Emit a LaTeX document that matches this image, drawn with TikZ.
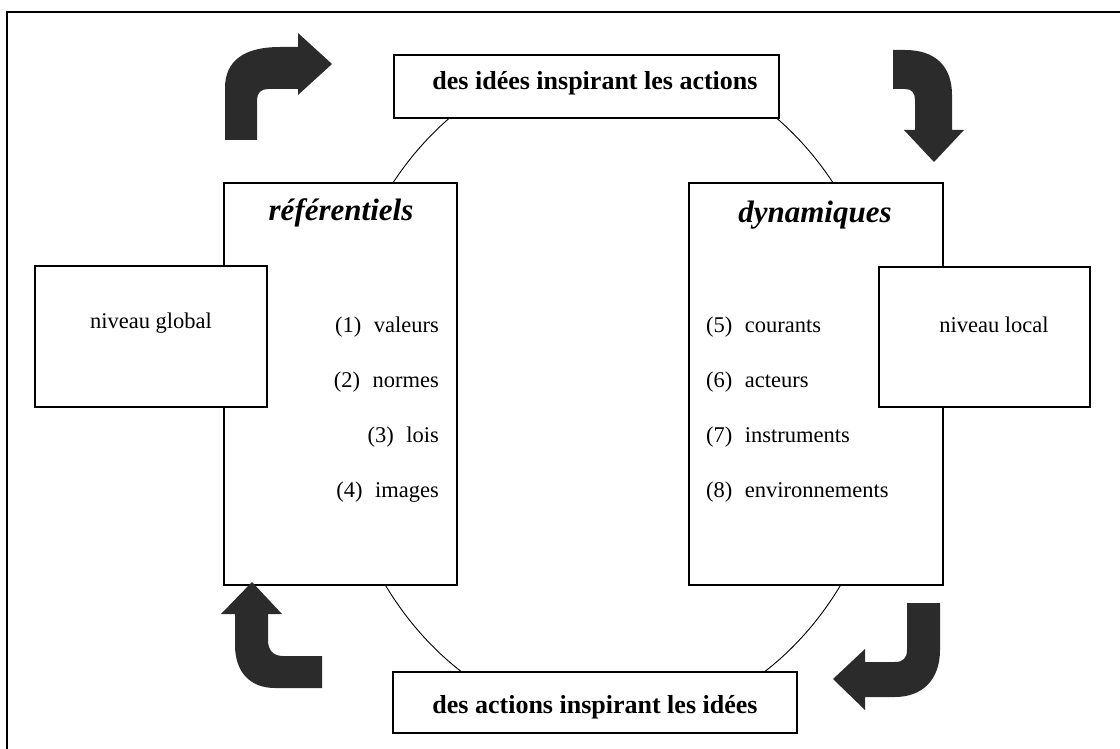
\documentclass[tikz,border=0pt]{standalone}
\usepackage{fontspec}
\setmainfont{Liberation Serif}
\definecolor{arrowgray}{HTML}{2B2B2B}
\begin{document}
\begin{tikzpicture}[x=1pt,y=-1pt,
  box/.style={draw, line width=1.6pt, fill=white, inner sep=0pt},
  bigarrow/.style={fill=arrowgray, draw=none},
  cyclebox/.style={font=\fontsize{26}{30}\selectfont\bfseries},
  boxtitle/.style={inner sep=0pt, font=\fontsize{31}{36}\selectfont\bfseries\itshape},
  item/.style={inner sep=0pt, font=\fontsize{22.5}{26}\selectfont},
]
\useasboundingbox (0,0) rectangle (1120,749);
% outer frame
\draw[line width=2.2pt] (7,749) -- (7,12) -- (1120,12);
% cycle ellipse
\draw[line width=0.9pt] (613,390) ellipse [x radius=280, y radius=335];
% main boxes
\node[box, minimum width=233pt, minimum height=402pt] (ref) at (340.5,384) {};
\node[box, minimum width=254pt, minimum height=402pt] (dyn) at (816,384) {};
% level boxes
\node[box, minimum width=232pt, minimum height=141pt] (glob) at (151,336.5) {};
\node[box, minimum width=211pt, minimum height=140pt] (loc) at (984.5,337) {};
% top / bottom boxes
\node[box, minimum width=385pt, minimum height=63pt] (top) at (586.5,86.5) {};
\node[box, minimum width=404pt, minimum height=61pt] (bot) at (595,702.5) {};
% texts
\node[cyclebox] (toptxt) at (595,83) {des idées inspirant les actions};
\node[cyclebox] (bottxt) at (595,707) {des actions inspirant les idées};
\node[boxtitle] (reft) at (341,213) {référentiels};
\node[boxtitle] (dynt) at (815,215) {dynamiques};
\node[item] (globt) at (151,323) {niveau global};
\node[item] (loct) at (994,325) {niveau local};
\node[item, anchor=east] (i1) at (439,327) {(1)\hspace{0.55em}valeurs};
\node[item, anchor=east] (i2) at (439,382) {(2)\hspace{0.55em}normes};
\node[item, anchor=east] (i3) at (439,437) {(3)\hspace{0.55em}lois};
\node[item, anchor=east] (i4) at (439,492) {(4)\hspace{0.55em}images};
\node[item, anchor=west] (i5) at (706,327) {(5)\hspace{0.55em}courants};
\node[item, anchor=west] (i6) at (706,382) {(6)\hspace{0.55em}acteurs};
\node[item, anchor=west] (i7) at (706,437) {(7)\hspace{0.55em}instruments};
\node[item, anchor=west] (i8) at (706,492) {(8)\hspace{0.55em}environnements};
% big arrows
\fill[bigarrow] (225,140) -- (225,88) .. controls (225,60) and (245,47) .. (280,47) -- (298,47) -- (298,33) -- (332,64) -- (298,95) -- (298,89) -- (268,89) .. controls (261,89) and (257,93) .. (257,100) -- (257,140) -- cycle;
\fill[bigarrow] (893,50) -- (905,50) .. controls (935,50) and (952,66) .. (952,95) -- (952,130) -- (964,130) -- (934,162) -- (904,130) -- (915,130) -- (915,100) .. controls (915,93) and (912,89) .. (905,89) -- (893,89) -- cycle;
\fill[bigarrow] (252,582) -- (282,614) -- (268,614) -- (268,640) .. controls (268,650) and (273,656) .. (283,656) -- (322,656) -- (322,688) -- (275,688) .. controls (250,688) and (235,672) .. (235,645) -- (235,614) -- (221,614) -- cycle;
\fill[bigarrow] (907,603) -- (940,603) -- (940,650) .. controls (940,680) and (922,697) .. (895,697) -- (865,697) -- (865,710) -- (833,679) -- (865,649) -- (865,662) -- (895,662) .. controls (903,662) and (907,658) .. (907,650) -- cycle;
\end{tikzpicture}
\end{document}
